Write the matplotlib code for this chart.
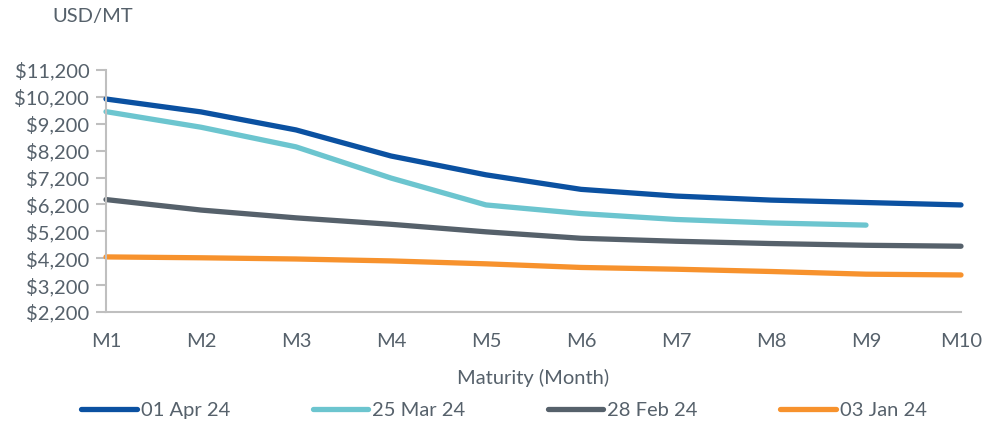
import matplotlib
matplotlib.use("Agg")
import matplotlib.pyplot as plt
from matplotlib.ticker import FuncFormatter

# maturity labels and forward curves (USD/MT)
months = ["M1", "M2", "M3", "M4", "M5", "M6", "M7", "M8", "M9", "M10"]
apr01 = [10120, 9640, 8970, 8000, 7300, 6760, 6510, 6360, 6270, 6180]
mar25 = [9650, 9070, 8340, 7180, 6180, 5860, 5640, 5510, 5430]
feb28 = [6380, 5990, 5700, 5460, 5180, 4940, 4830, 4745, 4680, 4645]
jan03 = [4247, 4215, 4170, 4098, 3990, 3855, 3790, 3705, 3605, 3576]
series_names = ["01 Apr 24", "25 Mar 24", "28 Feb 24", "03 Jan 24"]
yticks = list(range(2200, 11201, 1000))

colors = ["#0B51A1", "#6CC5CF", "#56616B", "#F7922D"]
text_col = "#56616B"
axis_col = "#BFBFBF"
fs = 14.5

plt.rcParams["font.family"] = ["Lato", "DejaVu Sans"]

fig = plt.figure(figsize=(10, 4.4), dpi=100)
ax = fig.add_axes([0.106, 0.291, 0.855, 0.55])

for vals, name, c in zip([apr01, mar25, feb28, jan03], series_names, colors):
    ax.plot(range(len(vals)), vals, color=c, lw=3.8, label=name,
            solid_capstyle="round", solid_joinstyle="round", clip_on=False)

ax.set_xlim(0, len(months) - 1)
ax.set_ylim(2200, 11200)
ax.set_xticks(range(len(months)))
ax.set_xticklabels(months)
ax.set_yticks(yticks)
ax.yaxis.set_major_formatter(FuncFormatter(lambda v, p: "${:,.0f}".format(v)))

for s in ["top", "right"]:
    ax.spines[s].set_visible(False)
for s in ["left", "bottom"]:
    ax.spines[s].set_color(axis_col)
    ax.spines[s].set_linewidth(1.5)
ax.tick_params(axis="y", colors=axis_col, length=7, width=1.5, labelsize=fs,
               labelcolor=text_col, pad=5)
ax.tick_params(axis="x", length=0, labelsize=fs, labelcolor=text_col, pad=15)

ax.set_xlabel("Maturity (Month)", fontsize=fs, color=text_col, labelpad=14)
fig.text(0.052, 0.962, "USD/MT", fontsize=fs, color=text_col, va="center")

fig.legend(loc="center", bbox_to_anchor=(0.504, 0.067), ncol=4, frameon=False,
           fontsize=fs, handlelength=2.75, handletextpad=0.2, columnspacing=4.1,
           labelcolor=text_col)

fig.savefig("out.png", dpi=100)
